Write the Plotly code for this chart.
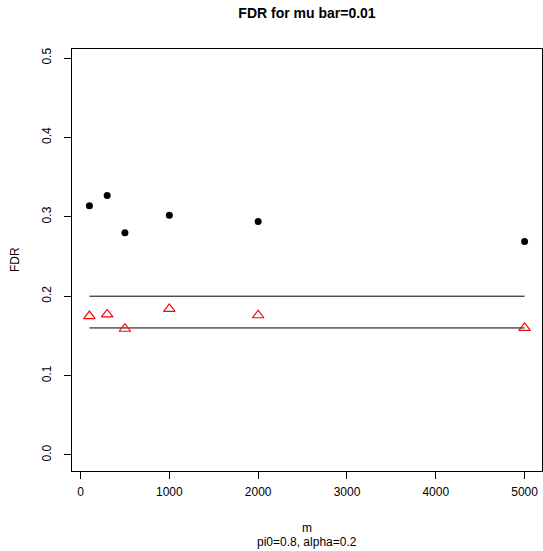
import plotly.graph_objects as go

m_values = [100, 300, 500, 1000, 2000, 5000]
fdr_black = [0.314, 0.327, 0.280, 0.302, 0.294, 0.269]
fdr_red = [0.175, 0.177, 0.159, 0.184, 0.176, 0.160]
ref_levels = [0.2, 0.16]
x_ticks = [0, 1000, 2000, 3000, 4000, 5000]
y_ticks = [0.0, 0.1, 0.2, 0.3, 0.4, 0.5]

font = "Liberation Sans, Arial, Helvetica, sans-serif"

W, H = 543, 551
L, T, R, B = 72, 49, 1, 80
PW, PH = W - L - R, H - T - B

fig = go.Figure()
for lvl in ref_levels:
    fig.add_trace(go.Scatter(x=[m_values[0], m_values[-1]], y=[lvl, lvl], mode="lines",
                             line=dict(color="black", width=1), showlegend=False, hoverinfo="skip"))
fig.add_trace(go.Scatter(x=m_values, y=fdr_black, mode="markers",
                         marker=dict(symbol="circle", size=7, color="black"), showlegend=False))
fig.add_trace(go.Scatter(x=m_values, y=fdr_red, mode="markers",
                         marker=dict(symbol="triangle-up-open", size=10, color="red",
                                     line=dict(width=1.2, color="red")), showlegend=False))

axis_common = dict(showgrid=False, zeroline=False, showline=True, linecolor="black", linewidth=1,
                   mirror=True, ticks="outside", ticklen=7, tickcolor="black", tickwidth=1,
                   tickfont=dict(family=font, size=12, color="black"))

fig.update_layout(
    width=W, height=H,
    margin=dict(l=L, r=R, t=T, b=B),
    paper_bgcolor="white", plot_bgcolor="white",
    title=dict(text="<b>FDR for mu bar=0.01</b>", x=(L + PW / 2) / W, xanchor="center",
               y=1 - 13 / H, yanchor="middle", font=dict(family=font, size=14, color="black")),
    xaxis=dict(range=[-96, 5196], tickvals=x_ticks, ticktext=[str(v) for v in x_ticks],
               ticklabelstandoff=3, **axis_common),
    yaxis=dict(range=[-0.0202, 0.5114], tickvals=y_ticks, ticktext=[f"{v:.1f}" for v in y_ticks],
               tickangle=-90, ticklabelstandoff=8, **axis_common),
    annotations=[
        dict(text="m", xref="paper", yref="paper", x=0.5, y=-(528 - 471) / PH, xanchor="center",
             yanchor="middle", showarrow=False, font=dict(family=font, size=12, color="black")),
        dict(text="pi0=0.8, alpha=0.2", xref="paper", yref="paper", x=0.5, y=-(542 - 471) / PH,
             xanchor="center", yanchor="middle", showarrow=False,
             font=dict(family=font, size=12, color="black")),
        dict(text="FDR", xref="paper", yref="paper", x=-(72 - 15) / PW, y=0.5, xanchor="center",
             yanchor="middle", textangle=-90, showarrow=False,
             font=dict(family=font, size=12, color="black")),
    ],
)

fig.write_html("out.html", config={"displayModeBar": False},
               post_script="document.body.style.margin='0px';")
